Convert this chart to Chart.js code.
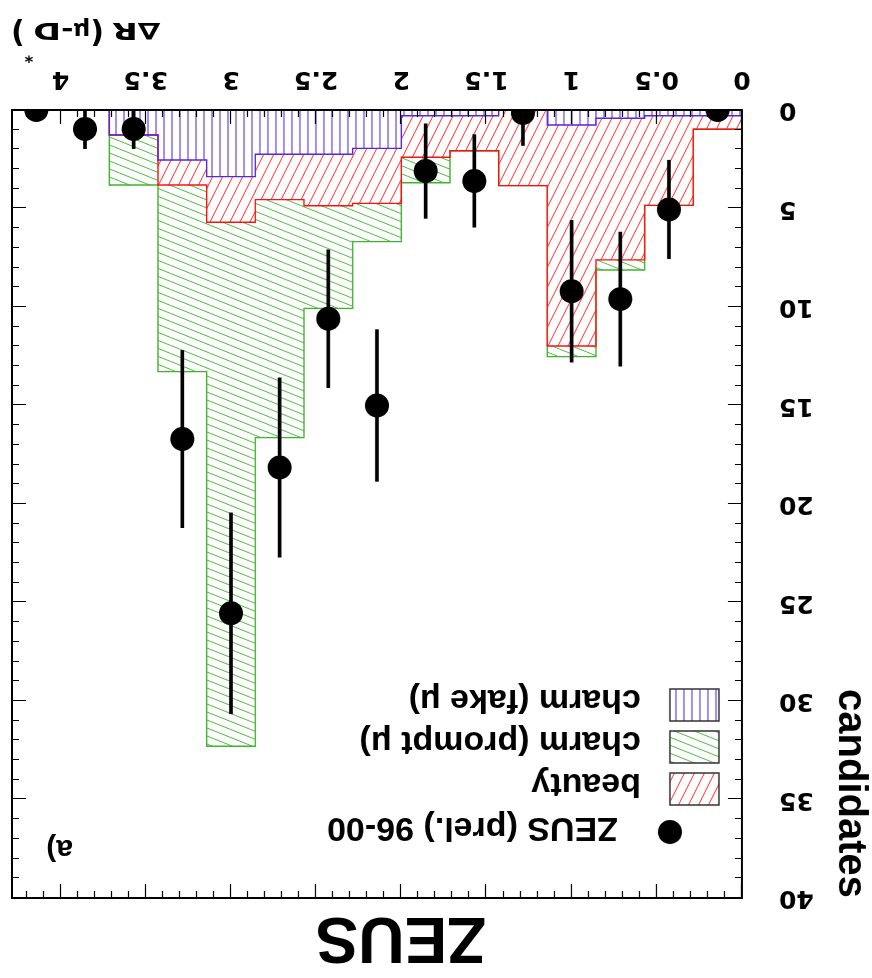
<!DOCTYPE html>
<html>
<head>
<meta charset="utf-8">
<script src="https://cdn.jsdelivr.net/npm/chart.js@4.4.1/dist/chart.umd.min.js"></script>
<style>
  html, body { margin: 0; padding: 0; background: #fff; }
  #frame { width: 872px; height: 978px; position: relative; transform: rotate(180deg); }
</style>
</head>
<body>
<div id="frame"><canvas id="c"></canvas></div>
<script>
// ΔR(μ–D*) bins: lower edges, plus the upper edge of the last bin
const binLow  = [0, 0.2857, 0.5714, 0.8571, 1.1429, 1.4286, 1.7143, 2.0, 2.2857, 2.5714, 2.8571, 3.1429, 3.4286, 3.7143, 4.0];
const binHigh = 4.2857;

// Monte Carlo expectations per bin (candidates), stacked fake → beauty → prompt
const charmFake   = [0.29, 0.29, 0.42, 0.76, 0, 0.29, 0.29, 1.95, 2.25, 2.25, 3.38, 2.54, 1.27, 0, 0];
const beauty      = [0.69, 4.55, 7.19, 11.22, 3.84, 1.78, 2.11, 2.79, 2.61, 2.30, 2.32, 1.27, 0, 0, 0];
const charmPrompt = [0, 0, 0.51, 0.54, 0, 0, 1.29, 1.94, 5.21, 12.08, 26.6, 9.47, 2.54, 0, 0];

// ZEUS 96-00 measurement and its statistical errors
const zeusCandidates = [0, 5.05, 9.6, 9.2, 0.15, 3.6, 3.1, 15.0, 10.6, 18.15, 25.55, 16.7, 0.96, 0.96, 0];
const zeusErrors     = [0, 2.5, 3.4, 3.6, 1.65, 2.35, 2.4, 3.85, 3.5, 4.55, 5.1, 4.5, 1.0, 1.0, 0];

// axis tick labels
const xTickLabels = ['0', '0.5', '1', '1.5', '2', '2.5', '3', '3.5', '4'];
const yTickLabels = ['0', '5', '10', '15', '20', '25', '30', '35', '40'];

const canvas = document.getElementById('c');
const ctx0 = canvas.getContext('2d');

// hatch fills
function makeHatch(w, h, paint) {
  const t = document.createElement('canvas');
  t.width = w; t.height = h;
  const g = t.getContext('2d');
  paint(g);
  return ctx0.createPattern(t, 'repeat');
}
const fakeHatch = makeHatch(8, 4, g => {
  g.strokeStyle = '#6a45e4'; g.lineWidth = 1.2;
  g.beginPath(); g.moveTo(4, 0); g.lineTo(4, 4); g.stroke();
});
const promptHatch = makeHatch(20, 8, g => {
  g.strokeStyle = '#4cbf3c'; g.lineWidth = 1;
  g.beginPath();
  for (const dy of [-8, 0, 8]) { g.moveTo(0, dy); g.lineTo(20, dy + 8); }
  g.stroke();
});
const beautyHatch = makeHatch(10, 20, g => {
  g.strokeStyle = '#ff2a2a'; g.lineWidth = 1;
  g.beginPath();
  for (const dx of [-10, 0, 10]) { g.moveTo(dx, 20); g.lineTo(dx + 10, 0); }
  g.stroke();
});

// derived geometry of the histograms
const edges = binLow.concat([binHigh]);
const centres = binLow.map((lo, i) => (lo + edges[i + 1]) / 2);
const cumFake = charmFake.slice();
const cumBeauty = cumFake.map((f, i) => f + beauty[i]);
const cumTotal = cumBeauty.map((b, i) => b + charmPrompt[i]);

function band(lo, hi) {
  const out = [];
  centres.forEach((x, i) => { if (hi[i] - lo[i] > 0) out.push({ x, y: [lo[i], hi[i]] }); });
  return out;
}
function steps(cum) {
  const pts = binLow.map((x, i) => ({ x, y: cum[i] }));
  pts.push({ x: binHigh, y: cum[cum.length - 1] });
  return pts;
}
const zeros = centres.map(() => 0);
const errorBars = [];
centres.forEach((x, i) => {
  if (zeusErrors[i] > 0) errorBars.push({ x, y: [zeusCandidates[i] - zeusErrors[i], zeusCandidates[i] + zeusErrors[i]] });
});
const points = centres.map((x, i) => ({ x, y: zeusCandidates[i] }));

const barCommon = { type: 'bar', grouped: false, barPercentage: 1, categoryPercentage: 1, borderWidth: 0 };
const lineCommon = { type: 'line', stepped: true, fill: false, pointRadius: 0, borderWidth: 1.4, tension: 0, clip: 0, label: '' };

// frame and inward tick marks on all four sides
const axisFrame = {
  id: 'axisFrame',
  afterDatasetsDraw(chart) {
    const { ctx, chartArea: a, scales: { x, y } } = chart;
    ctx.save();
    ctx.strokeStyle = '#000';
    ctx.lineWidth = 1.2;
    ctx.beginPath();
    for (let k = 0; k <= 42; k++) {
      const px = Math.round(x.getPixelForValue(k / 10)) + 0.5;
      const len = k % 5 === 0 ? 14 : 7;
      ctx.moveTo(px, a.bottom); ctx.lineTo(px, a.bottom - len);
      ctx.moveTo(px, a.top); ctx.lineTo(px, a.top + len);
    }
    for (let k = 0; k <= 40; k++) {
      const py = Math.round(y.getPixelForValue(k)) + 0.5;
      const len = k % 5 === 0 ? 14 : 7;
      ctx.moveTo(a.left, py); ctx.lineTo(a.left + len, py);
      ctx.moveTo(a.right, py); ctx.lineTo(a.right - len, py);
    }
    ctx.stroke();
    ctx.lineWidth = 2;
    ctx.strokeRect(a.left, a.top, a.right - a.left, a.bottom - a.top);
    ctx.restore();
  }
};

// legend, panel label, experiment label and the ΔR axis title
const annotations = {
  id: 'annotations',
  afterDraw(chart) {
    const { ctx, chartArea: a } = chart;
    const ds = chart.data.datasets;
    ctx.save();
    ctx.fillStyle = '#000';
    ctx.textBaseline = 'alphabetic';
    ctx.textAlign = 'left';

    // experiment label
    ctx.font = 'bold 64px "Liberation Sans"';
    ctx.textAlign = 'center';
    ctx.fillText('ZEUS', a.left + 341, a.top - 20);

    // panel label
    ctx.textAlign = 'left';
    ctx.font = 'bold 30px "Liberation Sans"';
    ctx.fillText('a)', a.right - 61, a.top + 58);

    // legend
    const boxL = a.left + 23, boxW = 49, boxH = 32;
    ctx.beginPath();
    ctx.arc(a.left + 72, a.top + 66, 12, 0, Math.PI * 2);
    ctx.fill();
    ctx.font = 'bold 34px "Liberation Sans"';
    ctx.fillText(ds[0].label, a.left + 124, a.top + 80);
    const rows = [
      { d: ds[5], top: a.top + 93 },
      { d: ds[6], top: a.top + 135 },
      { d: ds[7], top: a.top + 177 }
    ];
    rows.forEach(r => {
      ctx.fillStyle = '#fff';
      ctx.fillRect(boxL, r.top, boxW, boxH);
      ctx.fillStyle = r.d.backgroundColor;
      ctx.fillRect(boxL, r.top, boxW, boxH);
      ctx.strokeStyle = '#333';
      ctx.lineWidth = 1.5;
      ctx.strokeRect(boxL, r.top, boxW, boxH);
      ctx.fillStyle = '#000';
      ctx.fillText(r.d.label, a.left + 101, r.top + 31);
    });

    // x axis title: ΔR (μ-D*) with superscript star
    const runs = [
      { t: '\u2206', size: 23, sx: 1.4 },
      { t: 'R', size: 23, sx: 1.45 },
      { t: ' ', size: 23, sx: 1 },
      { t: '(', size: 30, sx: 1 },
      { t: '\u03bc', size: 23, sx: 1 },
      { t: '-', size: 23, sx: 1.3 },
      { t: 'D', size: 23, sx: 1.45 },
      { t: '*', size: 15, sx: 1.1, dy: -28 },
      { t: ')', size: 30, sx: 1 }
    ];
    let total = 0;
    runs.forEach(r => {
      ctx.font = 'bold ' + r.size + 'px "DejaVu Sans"';
      r.w = ctx.measureText(r.t).width * r.sx;
      total += r.w;
    });
    let xPos = a.right + 1 - total;
    const base = a.bottom + 87;
    runs.forEach(r => {
      ctx.font = 'bold ' + r.size + 'px "DejaVu Sans"';
      ctx.save();
      ctx.translate(xPos, base + (r.dy || 0));
      ctx.scale(r.sx, 1);
      ctx.fillText(r.t, 0, 0);
      ctx.restore();
      xPos += r.w;
    });
    ctx.restore();
  }
};

const tickFont = { family: '"DejaVu Sans"', weight: 'bold', size: 25 };

new Chart(canvas, {
  type: 'bar',
  data: {
    datasets: [
      { type: 'scatter', label: 'ZEUS (prel.) 96-00', data: points, pointRadius: 12, pointHoverRadius: 12,
        backgroundColor: '#000', borderWidth: 0, order: 0, clip: 0 },
      { ...barCommon, label: '', data: errorBars, barThickness: 3, backgroundColor: '#000', order: 1 },
      { ...lineCommon, data: steps(cumFake), borderColor: '#5528d8', order: 2 },
      { ...lineCommon, data: steps(cumBeauty), borderColor: '#ff1010', order: 3 },
      { ...lineCommon, data: steps(cumTotal), borderColor: '#3fb52f', order: 4 },
      { ...barCommon, label: 'beauty', data: band(cumFake, cumBeauty), backgroundColor: beautyHatch, order: 6 },
      { ...barCommon, label: 'charm (prompt \u03bc)', data: band(cumBeauty, cumTotal), backgroundColor: promptHatch, order: 7 },
      { ...barCommon, label: 'charm (fake \u03bc)', data: band(zeros, cumFake), backgroundColor: fakeHatch, order: 5 }
    ]
  },
  options: {
    responsive: true,
    maintainAspectRatio: false,
    animation: false,
    events: [],
    layout: { padding: { top: 80, right: 9, left: 0, bottom: 0 } },
    plugins: { legend: { display: false }, tooltip: { enabled: false }, title: { display: false } },
    scales: {
      x: {
        type: 'linear', min: 0, max: binHigh, offset: false,
        grid: { display: false }, border: { display: false },
        ticks: {
          stepSize: 0.5, includeBounds: false, autoSkip: false, maxRotation: 0, padding: 8,
          color: '#000', font: tickFont,
          callback: v => {
            const k = Math.round(v / 0.5);
            return Math.abs(v - k * 0.5) < 1e-6 && xTickLabels[k] !== undefined ? xTickLabels[k] : '';
          }
        },
        afterFit: s => { s.height = 110; }
      },
      y: {
        type: 'linear', min: 0, max: 40,
        grid: { display: false }, border: { display: false },
        ticks: {
          stepSize: 5, padding: 29, color: '#000', font: tickFont,
          callback: v => yTickLabels[Math.round(v / 5)] ?? ''
        },
        title: {
          display: true, text: 'candidates', align: 'end', color: '#000',
          font: { family: '"Liberation Sans"', weight: 'bold', size: 40, lineHeight: 1.1 },
          padding: { top: 0, bottom: 0 }
        },
        afterFit: s => { s.width = 130; }
      }
    }
  },
  plugins: [axisFrame, annotations]
});
</script>
</body>
</html>
